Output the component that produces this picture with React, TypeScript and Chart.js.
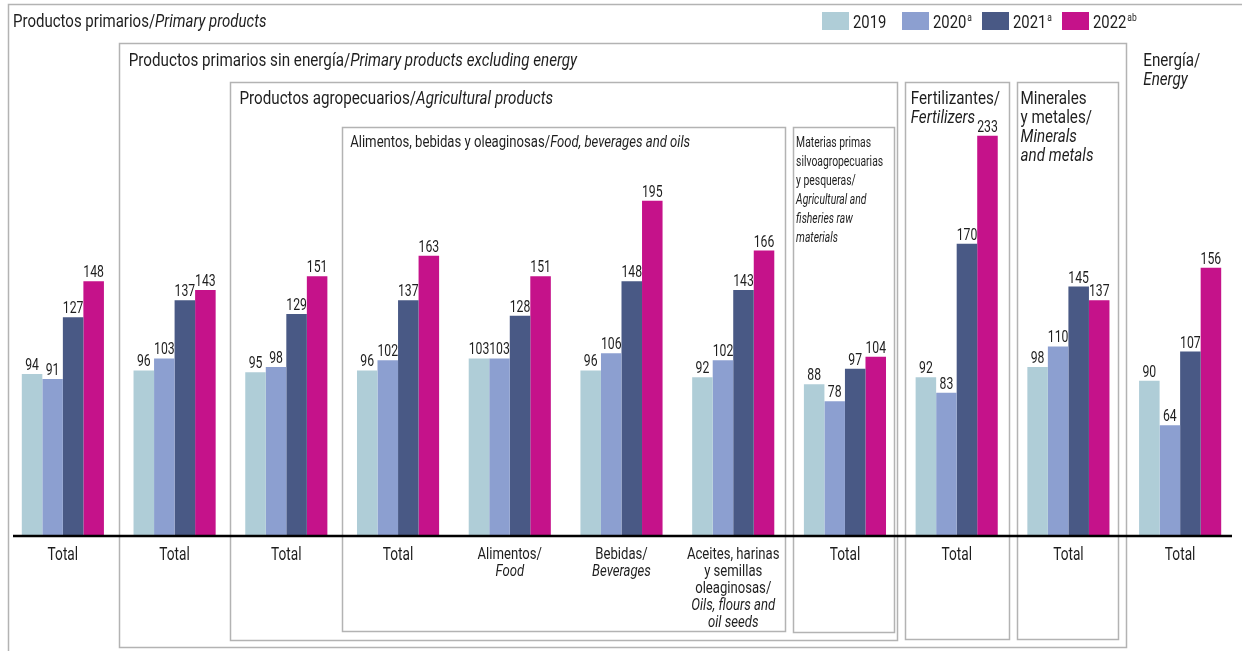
import React, { useEffect, useRef } from 'react';
import { Chart, registerables } from 'chart.js';

Chart.register(...registerables);

// ---------- data ----------
const categories = [
  'Total', 'Total', 'Total', 'Total', 'Alimentos', 'Bebidas', 'Aceites', 'Total', 'Total', 'Total', 'Total',
];
const seriesNames = ['2019', '2020', '2021', '2022'];
const seriesSup = ['', 'a', 'a', 'ab'];
const seriesColors = ['#afcdd7', '#8c9fd0', '#495985', '#c5128a'];

const v2019 = [94, 96, 95, 96, 103, 96, 92, 88, 92, 98, 90];
const v2020 = [91, 103, 98, 102, 103, 106, 102, 78, 83, 110, 64];
const v2021 = [127, 137, 129, 137, 128, 148, 143, 97, 170, 145, 107];
const v2022 = [148, 143, 151, 163, 151, 195, 166, 104, 233, 137, 156];

// tick labels: "plain|italic" per line
const tickLabels: string[][] = [
  ['Total'],
  ['Total'],
  ['Total'],
  ['Total'],
  ['Alimentos/', '|Food'],
  ['Bebidas/', '|Beverages'],
  ['Aceites, harinas', 'y semillas', 'oleaginosas/', '|Oils, flours and', '|oil seeds'],
  ['Total'],
  ['Total'],
  ['Total'],
  ['Total'],
];

const mainTitle = ['Productos primarios/|Primary products'];
const groupTitles = {
  exEnergy: ['Productos primarios sin energía/|Primary products excluding energy'],
  agri: ['Productos agropecuarios/|Agricultural products'],
  food: ['Alimentos, bebidas y oleaginosas/|Food, beverages and oils'],
  raw: ['Materias primas', 'silvoagropecuarias', 'y pesqueras/', '|Agricultural and', '|fisheries raw', '|materials'],
  fert: ['Fertilizantes/', '|Fertilizers'],
  minerals: ['Minerales', 'y metales/', '|Minerals', '|and metals'],
  energy: ['Energía/', '|Energy'],
};

// ---------- drawing helpers ----------
const FONT = 'Roboto, "Liberation Sans", sans-serif';
const SX = 0.76;

function parts(line: string) {
  const idx = line.indexOf('|');
  const out: { t: string; i: boolean; w?: number }[] = [];
  if (idx < 0) {
    out.push({ t: line, i: false });
  } else {
    const a = line.slice(0, idx);
    const b = line.slice(idx + 1);
    if (a) out.push({ t: a, i: false });
    if (b) out.push({ t: b, i: true });
  }
  return out;
}

function drawLine(ctx: CanvasRenderingContext2D, line: string, x: number, y: number, size: number, align: string, sx = SX) {
  const ps = parts(line);
  let w = 0;
  ps.forEach((p) => {
    ctx.font = `${p.i ? 'italic ' : ''}${size}px ${FONT}`;
    p.w = ctx.measureText(p.t).width;
    w += p.w;
  });
  ctx.save();
  ctx.translate(x, y);
  ctx.scale(sx, 1);
  let cx = align === 'center' ? -w / 2 : align === 'right' ? -w : 0;
  ctx.textAlign = 'left';
  ctx.textBaseline = 'alphabetic';
  ctx.fillStyle = '#1e1e1e';
  ps.forEach((p) => {
    ctx.font = `${p.i ? 'italic ' : ''}${size}px ${FONT}`;
    ctx.fillText(p.t, cx, 0);
    cx += p.w as number;
  });
  ctx.restore();
}

function drawBlock(ctx: CanvasRenderingContext2D, lines: string[], x: number, y: number, size: number, lh: number, align: string, sx = SX) {
  lines.forEach((l, k) => drawLine(ctx, l, x, y + k * lh, size, align, sx));
}

const decorPlugin = {
  id: 'decor',
  beforeDatasetsDraw(chart: any) {
    const ctx: CanvasRenderingContext2D = chart.ctx;
    const xs = chart.scales.x;
    const c = (i: number) => xs.getPixelForValue(i);
    const cw = c(1) - c(0);
    const edge = (i: number) => c(i) - cw / 2;

    ctx.save();
    ctx.strokeStyle = '#b3b3b3';
    ctx.lineWidth = 1.5;
    const rect = (l: number, t: number, r: number, b: number) => {
      ctx.strokeRect(Math.round(l) + 0.5, Math.round(t) + 0.5, Math.round(r - l), Math.round(b - t));
    };
    // outer frame
    rect(8, 4, 1260, 700);
    // primary excluding energy
    rect(edge(1), 43, edge(10) + 1, 647);
    // agricultural
    rect(edge(2), 82, edge(8) - 3, 640);
    // food, beverages, oils
    rect(edge(3), 127, edge(7) - 4, 631);
    // raw materials
    rect(edge(7) + 4, 127, edge(8) - 7, 632);
    // fertilizers
    rect(edge(8) + 4, 82, edge(9) - 4, 639);
    // minerals
    rect(edge(9) + 4, 82, edge(10) - 7, 639);
    ctx.restore();

    // titles
    drawBlock(ctx, mainTitle, 13, 27, 19, 19, 'left', 0.79);
    drawBlock(ctx, groupTitles.exEnergy, edge(1) + 10, 66, 19, 19, 'left', 0.8);
    drawBlock(ctx, groupTitles.agri, edge(2) + 9, 104, 19, 19, 'left', 0.8);
    drawBlock(ctx, groupTitles.food, edge(3) + 8, 147, 16, 19, 'left', 0.82);
    drawBlock(ctx, groupTitles.raw, edge(7) + 7, 147, 15, 19, 'left', 0.69);
    drawBlock(ctx, groupTitles.fert, edge(8) + 10, 104, 19, 19, 'left', 0.8);
    drawBlock(ctx, groupTitles.minerals, edge(9) + 8, 104, 19, 19, 'left', 0.8);
    drawBlock(ctx, groupTitles.energy, edge(10) + 19, 66, 19, 19, 'left', 0.8);

    // legend
    const lx0 = 822;
    seriesNames.forEach((name, k) => {
      const bx = lx0 + k * 80;
      ctx.fillStyle = seriesColors[k];
      ctx.fillRect(bx, 12, 27, 18);
      drawLine(ctx, name, bx + 31, 28, 19, 'left', 0.78);
      if (seriesSup[k]) {
        ctx.font = `19px ${FONT}`;
        const w = ctx.measureText(name).width * 0.78;
        drawLine(ctx, seriesSup[k], bx + 31 + w + 1, 21, 10, 'left', 0.85);
      }
    });
  },
  afterDatasetsDraw(chart: any) {
    const ctx: CanvasRenderingContext2D = chart.ctx;
    const xs = chart.scales.x;
    const area = chart.chartArea;

    // base line
    ctx.save();
    ctx.strokeStyle = '#000';
    ctx.lineWidth = 2.5;
    ctx.beginPath();
    ctx.moveTo(13, area.bottom + 1);
    ctx.lineTo(1232, area.bottom + 1);
    ctx.stroke();
    ctx.restore();

    // value labels
    chart.data.datasets.forEach((ds: any, di: number) => {
      const meta = chart.getDatasetMeta(di);
      meta.data.forEach((bar: any, i: number) => {
        drawLine(ctx, String(ds.data[i]), bar.x, bar.y - 4, 17, 'center', 0.72);
      });
    });

    // category labels
    tickLabels.forEach((lines, i) => {
      const x = xs.getPixelForValue(i);
      const single = lines.length === 1;
      if (single) drawBlock(ctx, lines, x, 560, 18, 17, 'center', 0.76);
      else drawBlock(ctx, lines, x, 559, 16, 17, 'center', 0.82);
    });
  },
};

export default function App() {
  const ref = useRef<HTMLCanvasElement | null>(null);
  useEffect(() => {
    document.body.style.margin = '0';
    const canvas = ref.current;
    if (!canvas) return;
    const data = [v2019, v2020, v2021, v2022];
    const chart = new Chart(canvas, {
      type: 'bar',
      data: {
        labels: categories,
        datasets: seriesNames.map((n, k) => ({
          label: n,
          data: data[k],
          backgroundColor: seriesColors[k],
          borderWidth: 0,
          categoryPercentage: 0.735,
          barPercentage: 1.0,
        })),
      },
      options: {
        responsive: false,
        animation: false,
        devicePixelRatio: 1,
        layout: { padding: { left: 7, right: 6, top: 38, bottom: 116 } },
        plugins: { legend: { display: false }, tooltip: { enabled: false } },
        scales: {
          x: { display: false, offset: true, grid: { display: false } },
          y: { display: false, min: 0, max: 290 },
        },
      },
      plugins: [decorPlugin],
    } as any);
    return () => chart.destroy();
  }, []);
  return (
    <div style={{ width: 1242, height: 651, background: '#fff' }}>
      <canvas ref={ref} width={1242} height={651} style={{ display: 'block' }} />
    </div>
  );
}
